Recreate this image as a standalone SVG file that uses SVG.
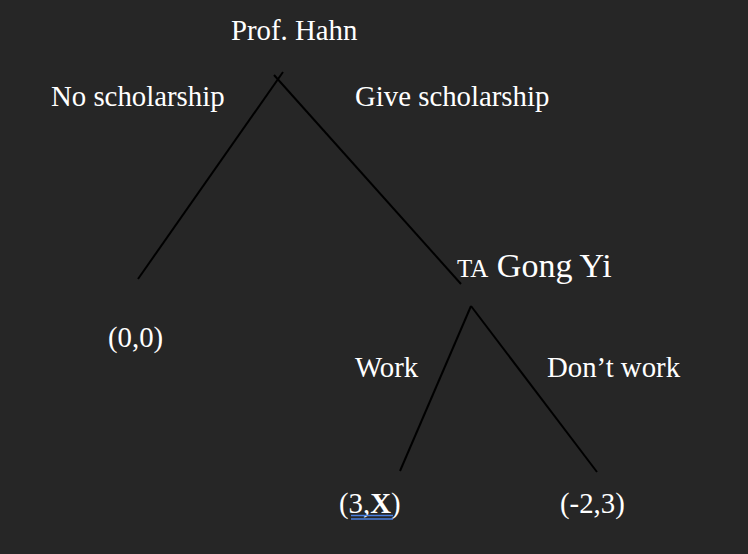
<svg xmlns="http://www.w3.org/2000/svg" width="748" height="554" viewBox="0 0 748 554">
<style>
text{font-family:"Liberation Serif","Times New Roman",serif;fill:#ffffff;font-size:28.8px}
.e{stroke:#000000;stroke-width:2;fill:none}
</style>
<rect width="748" height="554" fill="#262626"/>
<g id="edges">
<line class="e" x1="283" y1="72" x2="138" y2="279"/>
<line class="e" x1="274" y1="75" x2="461" y2="284"/>
<line class="e" x1="471" y1="306" x2="400" y2="471"/>
<line class="e" x1="471" y1="306" x2="597" y2="472"/>
</g>
<g id="prof"><text x="231" y="40">Prof. Hahn</text></g>
<g id="no"><text x="51" y="106">No scholarship</text></g>
<g id="give"><text x="355" y="106">Give scholarship</text></g>
<g id="ta"><text x="457" y="277"><tspan font-size="25">TA</tspan><tspan font-size="34"> Gong Yi</tspan></text></g>
<g id="zero"><text x="108" y="347">(0,0)</text></g>
<g id="work"><text x="355" y="377">Work</text></g>
<g id="dont"><text x="547" y="377">Don’t work</text></g>
<g id="leaf1"><text x="339" y="513">(3,<tspan font-weight="bold">X</tspan>)</text>
<line x1="351" y1="515.5" x2="393" y2="515.5" stroke="#4a7fe0" stroke-width="1.5"/>
<line x1="351" y1="519" x2="393" y2="519" stroke="#4a7fe0" stroke-width="1.5"/></g>
<g id="leaf2"><text x="560" y="513">(-2,3)</text></g>
</svg>
